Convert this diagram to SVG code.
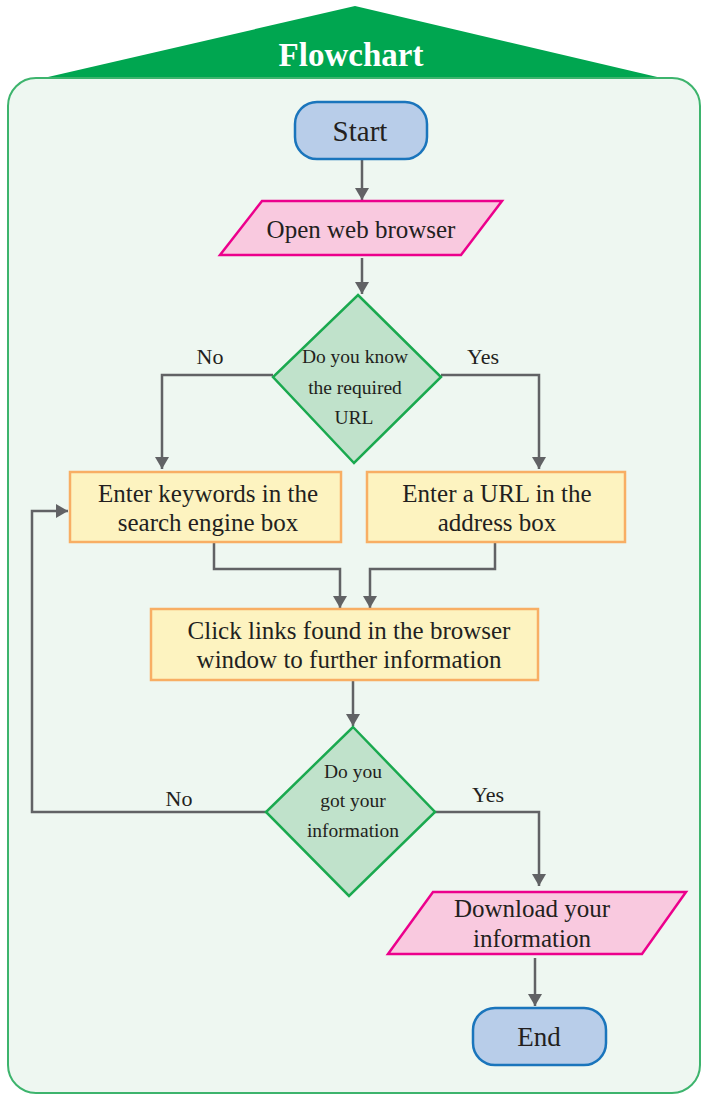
<svg xmlns="http://www.w3.org/2000/svg" width="702" height="1096" viewBox="0 0 702 1096">
<defs>
<marker id="ah" viewBox="0 0 12 14" refX="12" refY="7" markerWidth="12" markerHeight="14" markerUnits="userSpaceOnUse" orient="auto">
<path d="M0,0 L12,7 L0,14 Z" fill="#616265"/>
</marker>
<style>
.t{font-family:"Liberation Serif","Times New Roman",serif;fill:#231f20;text-anchor:middle}
.b{font-size:25px}
.s{font-size:19.5px}
.term{fill:#b8cde9;stroke:#1a75bc;stroke-width:2.5}
.io{fill:#f9c9df;stroke:#ec008c;stroke-width:2.5}
.dec{fill:#c0e2cb;stroke:#1aa94f;stroke-width:2.5}
.proc{fill:#fdf3c0;stroke:#f8ae64;stroke-width:2.5}
.c{fill:none;stroke:#616265;stroke-width:2.5;marker-end:url(#ah)}
</style>
</defs>
<g id="header">
<polygon points="355,6 35,80 670,80" fill="#00a650"/>
<rect x="8" y="78" width="692" height="1015" rx="28" fill="#eef7f1" stroke="#3db46d" stroke-width="2"/>
<text x="351" y="66" class="t" style="font-size:33px;font-weight:bold;fill:#ffffff">Flowchart</text>
</g>
<g id="connectors">
<path class="c" d="M362,160 V200"/>
<path class="c" d="M362,258 V294"/>
<path class="c" d="M273,375 H162 V469"/>
<path class="c" d="M441,375 H539 V469"/>
<path class="c" d="M214,543 V569 H340 V608"/>
<path class="c" d="M495,543 V569 H370 V608"/>
<path class="c" d="M353,681 V726"/>
<path class="c" d="M266,812 H32 V511 H68"/>
<path class="c" d="M435,812 H539 V886"/>
<path class="c" d="M535,958 V1006"/>
<text x="210" y="364" class="t" style="font-size:22px">No</text>
<text x="483" y="364" class="t" style="font-size:22px">Yes</text>
<text x="179" y="806" class="t" style="font-size:22px">No</text>
<text x="488" y="802" class="t" style="font-size:22px">Yes</text>
</g>
<g id="start">
<rect x="295" y="102" width="132" height="57" rx="22" class="term"/>
<text x="360" y="141" class="t" style="font-size:29px">Start</text>
</g>
<g id="open">
<polygon points="262,201 502,201 461,255 220,255" class="io"/>
<text x="361" y="238" class="t b">Open web browser</text>
</g>
<g id="know">
<polygon points="358,295 441,377 354,463 273,377" class="dec"/>
<text x="355" y="363" class="t s">Do you know</text>
<text x="355" y="394" class="t s">the required</text>
<text x="354" y="424" class="t s">URL</text>
</g>
<g id="keywords">
<rect x="70" y="472" width="271" height="70" class="proc"/>
<text x="208" y="502" class="t b">Enter keywords in the</text>
<text x="208" y="531" class="t b">search engine box</text>
</g>
<g id="url">
<rect x="367" y="472" width="258" height="70" class="proc"/>
<text x="497" y="502" class="t b">Enter a URL in the</text>
<text x="497" y="531" class="t b">address box</text>
</g>
<g id="click">
<rect x="151" y="609" width="387" height="71" class="proc"/>
<text x="349" y="639" class="t b">Click links found in the browser</text>
<text x="349" y="668" class="t b">window to further information</text>
</g>
<g id="got">
<polygon points="353,727 435,812 349,896 266,812" class="dec"/>
<text x="353" y="778" class="t s">Do you</text>
<text x="353" y="807" class="t s">got your</text>
<text x="353" y="837" class="t s">information</text>
</g>
<g id="download">
<polygon points="433,892 686,892 642,954 388,954" class="io"/>
<text x="532" y="917" class="t b">Download your</text>
<text x="532" y="947" class="t b">information</text>
</g>
<g id="end">
<rect x="473" y="1008" width="133" height="57" rx="22" class="term"/>
<text x="539" y="1046" class="t" style="font-size:27px">End</text>
</g>
</svg>
